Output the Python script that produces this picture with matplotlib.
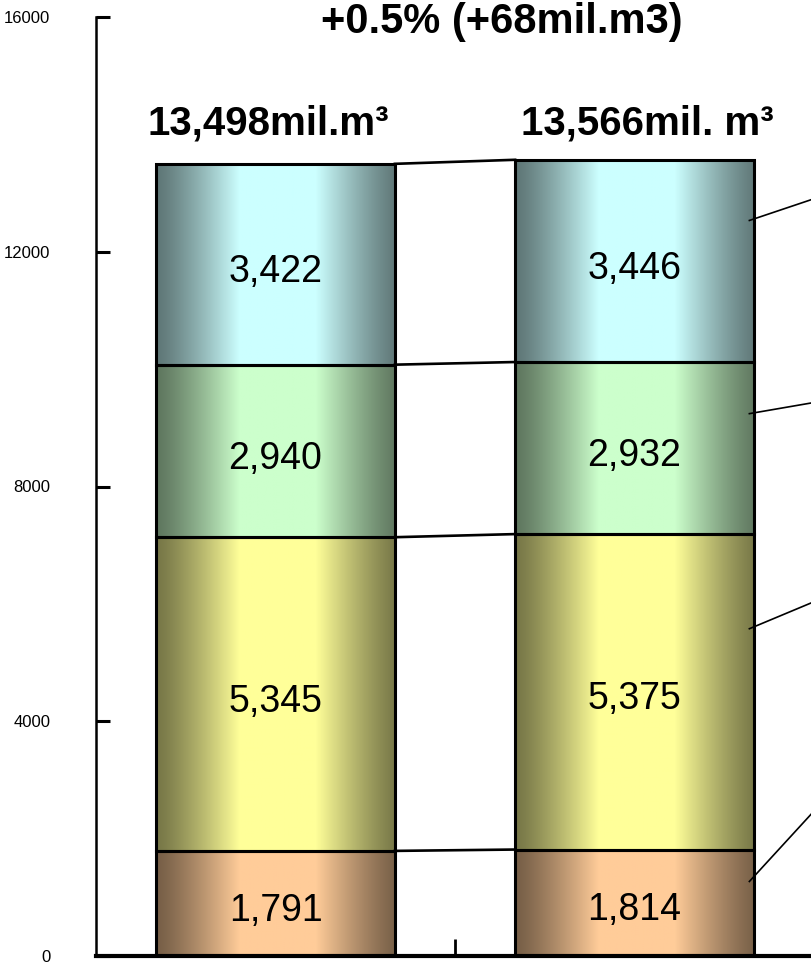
import numpy as np
import matplotlib
matplotlib.use('Agg')
import matplotlib.pyplot as plt
import matplotlib.colors as mcolors

# stacked volumes per year (mil. m3), bottom to top
positions = [0, 1]
seg_bottom = [1791, 1814]
seg_second = [5345, 5375]
seg_third = [2940, 2932]
seg_top = [3422, 3446]
segments = [seg_bottom, seg_second, seg_third, seg_top]
seg_colors = ['#FFCC99', '#FFFF99', '#CCFFCC', '#CCFFFF']

total_labels = ['13,498mil.m\u00b3', '13,566mil. m\u00b3']
title_text = '+0.5% (+68mil.m3)'
yticks = [0, 4000, 8000, 12000, 16000]

# leader lines to the (off-chart) legend labels: rise at right edge per segment
leader_rise = [1200, 460, 190, 370]

fam = ['Liberation Sans', 'DejaVu Sans']

fig = plt.figure(figsize=(8.11, 9.66), dpi=100)
ax = fig.add_axes([96 / 811, 10 / 966, 718 / 811, 939 / 966])

bar_w = 0.665


def shade(patch, light):
    # horizontal "cylinder" gradient: dark at the edges, light in the middle
    x0, y0 = patch.get_x(), patch.get_y()
    w, h = patch.get_width(), patch.get_height()
    u = np.linspace(0, 1, 300)
    t = np.clip((0.5 - np.abs(u - 0.51)) / 0.34, 0, 1) ** 1.2
    light = np.array(mcolors.to_rgb(light))
    dark = light * 0.47
    rgb = dark + (light - dark) * t[:, None]
    ax.imshow(rgb[None, :, :], extent=(x0, x0 + w, y0, y0 + h),
              aspect='auto', interpolation='bilinear', zorder=1)


bottoms = np.zeros(len(positions))
levels = []
for vals, col in zip(segments, seg_colors):
    bars = ax.bar(positions, vals, bar_w, bottom=bottoms, facecolor='none',
                  edgecolor='black', linewidth=2.2, zorder=3)
    for p, v in zip(bars.patches, vals):
        shade(p, col)
        ax.text(p.get_x() + p.get_width() / 2, p.get_y() + p.get_height() / 2 - 130,
                f'{v:,}', ha='center', va='center', fontsize=27, zorder=4,
                family=fam)
    bottoms = bottoms + np.array(vals)
    levels.append(bottoms.copy())

# connecting lines between the two stacks
for lv in levels:
    ax.plot([positions[0] + bar_w / 2, positions[1] - bar_w / 2], lv,
            color='black', linewidth=1.9, zorder=3)

# leader lines from the right stack
base = 0
for vals, rise in zip(segments, leader_rise):
    y0 = base + vals[1] * 0.7
    ax.plot([1.32, 1.5], [y0, y0 + rise], color='black', linewidth=1.2, zorder=4)
    base += vals[1]

# totals above bars
for x, lab in zip(positions, total_labels):
    ax.text(x + [-0.02, 0.036][x], 14000, lab, ha='center', va='baseline',
            fontsize=29, family=fam, fontweight='bold')

ax.text(0.63, 15720, title_text, ha='center', va='baseline', fontsize=30,
        clip_on=False, family=fam, fontweight='bold')

ax.set_xlim(-0.5, 1.5)
ax.set_ylim(0, 16000)
ax.set_yticks(yticks)
ax.set_yticklabels([str(t) for t in yticks], fontsize=12, family=fam)
ax.set_xticks([0.5])
ax.set_xticklabels([''])
ax.tick_params(axis='y', direction='in', length=10, width=2.2, pad=33)
ax.tick_params(axis='x', direction='in', length=12, width=2)

for s in ['top', 'right']:
    ax.spines[s].set_visible(False)
ax.spines['left'].set_linewidth(1.8)
ax.spines['bottom'].set_linewidth(3)

fig.savefig('out.png', dpi=100)
